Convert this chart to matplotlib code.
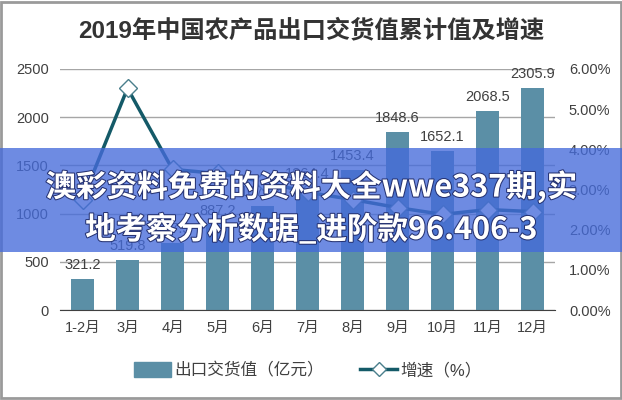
import numpy as np
import matplotlib
matplotlib.use("Agg")
import matplotlib.pyplot as plt
import matplotlib.patheffects as pe
from matplotlib.patches import Rectangle
from matplotlib.lines import Line2D

plt.rcParams['font.family'] = ['Liberation Sans', 'Noto Sans CJK SC', 'DejaVu Sans']

# data
months = ["1-2月", "3月", "4月", "5月", "6月", "7月", "8月", "9月", "10月", "11月", "12月"]
export_value = [321.2, 519.8, 697.5, 887.2, 1078.4, 1264.4, 1453.4, 1848.6, 1652.1, 2068.5, 2305.9]
growth_pct = [2.75, 5.52, 3.5, 3.4, 3.2, 2.93, 2.75, 2.55, 2.38, 2.5, 2.45]

title = "2019年中国农产品出口交货值累计值及增速"
legend_bar = "出口交货值（亿元）"
legend_line = "增速（%）"
banner_lines = ["澳彩资料免费的资料大全wwe337期,实", "地考察分析数据_进阶款96.406-3"]

bar_color = "#5b8fa6"
line_color = "#145a68"
text_color = "#404040"

fig = plt.figure(figsize=(6.22, 4.0), dpi=100)
ax = fig.add_axes([60/622, 1-310/400, 495/622, 241/400])
ax2 = ax.twinx()

x = np.arange(len(months))
ax.bar(x, export_value, width=0.5, color=bar_color, zorder=2)
# value labels above the bars (the banner covers some of them)
for xi, v in zip(x, export_value):
    ax.text(xi, v + 70, f"{v:.1f}", ha="center", va="bottom", fontsize=10.5, color=text_color, zorder=3)

ax.set_ylim(0, 2500)
ax.set_yticks(np.arange(0, 2501, 500))
ax.set_xlim(-0.5, len(months) - 0.5)
ax.set_xticks(x)
ax.set_xticklabels(months)
ax.grid(axis="y", color="#a6a6a6", linewidth=1, zorder=0)
ax.set_axisbelow(True)
for sp in ["top", "right", "left"]:
    ax.spines[sp].set_visible(False)
    ax2.spines[sp].set_visible(False)
ax2.spines["bottom"].set_visible(False)
ax.spines["bottom"].set_color("#404040")
ax.tick_params(axis="both", length=0, labelsize=10.5, colors=text_color, pad=8)

ax2.plot(x, growth_pct, color=line_color, linewidth=2.5, marker="D", markersize=9.5,
         markerfacecolor="white", markeredgecolor="#4a7f8c", markeredgewidth=1, zorder=4)
ax2.set_ylim(0, 6)
ax2.set_yticks(np.arange(0, 6.01, 1))
ax2.set_yticklabels([f"{v:.2f}%" for v in np.arange(0, 6.01, 1)])
ax2.tick_params(axis="y", length=0, labelsize=10.5, colors=text_color, pad=10)

fig.text(0.5, 1-30/400, title, ha="center", va="center", fontsize=17.5, fontweight="bold",
         color="#333333", family=['Liberation Sans', 'Noto Sans CJK SC'])

h1 = Rectangle((0, 0), 1, 1, color=bar_color)
h2 = Line2D([], [], color=line_color, linewidth=2.5, marker="D", markersize=7,
            markerfacecolor="white", markeredgecolor="#4a7f8c")
fig.legend([h1, h2], [legend_bar, legend_line], loc="center", bbox_to_anchor=(0.495, 1-370/400),
           ncol=2, frameon=False, fontsize=12, handlelength=2.2, handleheight=1.0,
           columnspacing=2.2, handletextpad=0.2, labelcolor=text_color)

# border round the picture
fig.patches.append(Rectangle((0.002, 0.004), 0.996, 0.992, transform=fig.transFigure,
                             fill=False, edgecolor="#9a9a9a", linewidth=2))

# overlay banner
fig.patches.append(Rectangle((0, 1-252/400), 1, 104/400, transform=fig.transFigure,
                             facecolor=(0.27, 0.42, 0.86), alpha=0.78, zorder=10))
shadow = [pe.withStroke(linewidth=1.5, foreground=(0.15, 0.2, 0.45))]
fig.text(0.5, 1-187/400, banner_lines[0], ha="center", va="center", fontsize=22,
         fontweight="bold", color="white", zorder=11, path_effects=shadow,
         family=['Noto Sans CJK SC', 'DejaVu Sans'])
fig.text(0.5, 1-230/400, banner_lines[1], ha="center", va="center", fontsize=22,
         fontweight="bold", color="white", zorder=11, path_effects=shadow,
         family=['Noto Sans CJK SC', 'DejaVu Sans'])

fig.savefig("out.png", dpi=100)
